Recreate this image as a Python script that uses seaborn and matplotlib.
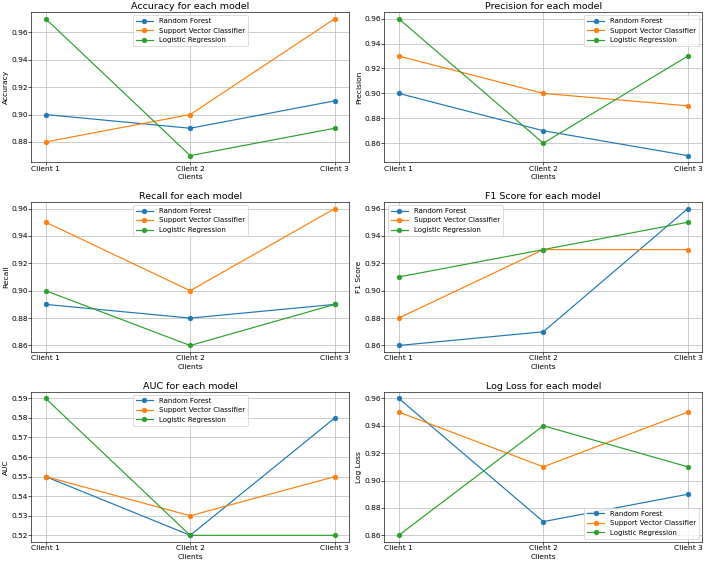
import matplotlib
matplotlib.use("Agg")
import matplotlib.pyplot as plt
import seaborn as sns

clients = ["Client 1", "Client 2", "Client 3"]
models = ["Random Forest", "Support Vector Classifier", "Logistic Regression"]

accuracy = {"Random Forest": [0.90, 0.89, 0.91],
            "Support Vector Classifier": [0.88, 0.90, 0.97],
            "Logistic Regression": [0.97, 0.87, 0.89]}
precision = {"Random Forest": [0.90, 0.87, 0.85],
             "Support Vector Classifier": [0.93, 0.90, 0.89],
             "Logistic Regression": [0.96, 0.86, 0.93]}
recall = {"Random Forest": [0.89, 0.88, 0.89],
          "Support Vector Classifier": [0.95, 0.90, 0.96],
          "Logistic Regression": [0.90, 0.86, 0.89]}
f1 = {"Random Forest": [0.86, 0.87, 0.96],
      "Support Vector Classifier": [0.88, 0.93, 0.93],
      "Logistic Regression": [0.91, 0.93, 0.95]}
auc = {"Random Forest": [0.55, 0.52, 0.58],
       "Support Vector Classifier": [0.55, 0.53, 0.55],
       "Logistic Regression": [0.59, 0.52, 0.52]}
logloss = {"Random Forest": [0.96, 0.87, 0.89],
           "Support Vector Classifier": [0.95, 0.91, 0.95],
           "Logistic Regression": [0.86, 0.94, 0.91]}

metrics = [("Accuracy", accuracy, "upper center"),
           ("Precision", precision, "upper right"),
           ("Recall", recall, "upper center"),
           ("F1 Score", f1, "upper left"),
           ("AUC", auc, "upper center"),
           ("Log Loss", logloss, "lower right")]

colors = ["#1f77b4", "#ff7f0e", "#2ca02c"]

plt.rcParams.update({
    "xtick.major.size": 3.2, "ytick.major.size": 3.2,
    "xtick.major.pad": 0.8, "ytick.major.pad": 0.8,
    "xtick.labelsize": 9.5, "ytick.labelsize": 9.5,
    "axes.labelsize": 9.5, "axes.titlesize": 12,
    "axes.labelpad": 3.0, "axes.titlepad": 3.0,
    "legend.fontsize": 8.9, "legend.handlelength": 2.5,
    "legend.labelspacing": 0.5,
})

fig, axes = plt.subplots(3, 2, figsize=(12.5, 9.94), dpi=56.64)
for ax, (name, data, loc) in zip(axes.flat, metrics):
    for m, c in zip(models, colors):
        sns.lineplot(x=clients, y=data[m], ax=ax, label=m, color=c,
                     marker="o", markeredgecolor=c, markersize=6, sort=False)
    ax.set_title(f"{name} for each model")
    ax.set_xlabel("Clients")
    ax.set_ylabel(name)
    ax.grid(True)
    ax.legend(loc=loc)
fig.subplots_adjust(left=0.044, right=0.992, top=0.979, bottom=0.037,
                    wspace=0.11, hspace=0.26)
fig.savefig("out.png", dpi=56.64)
